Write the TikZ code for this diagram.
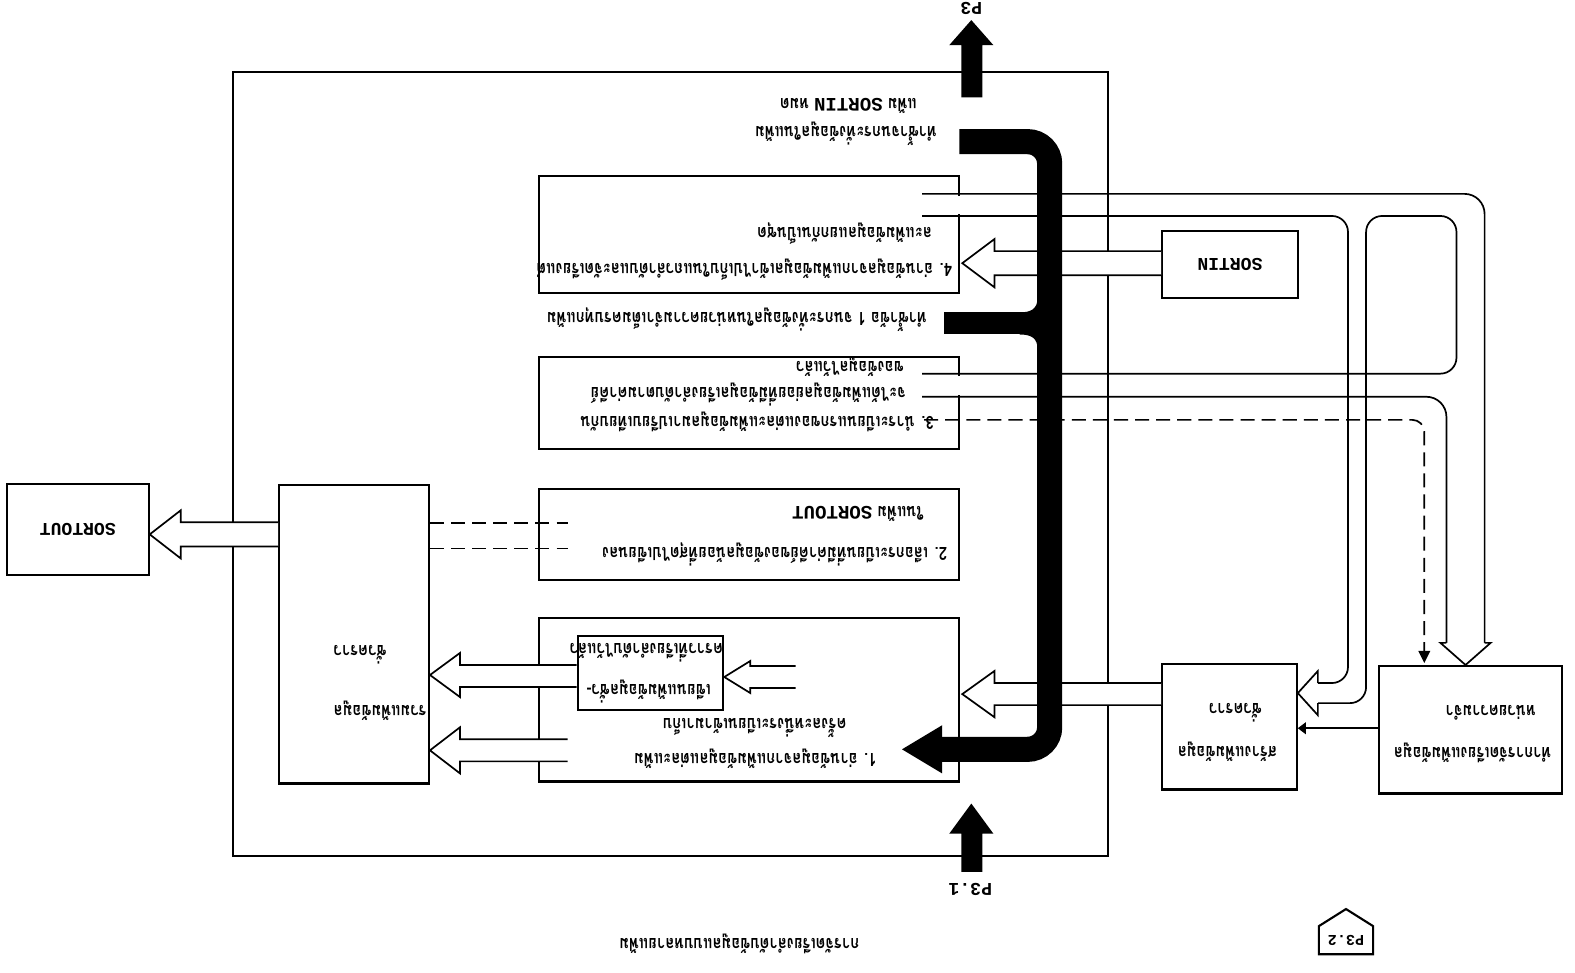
\documentclass[tikz,border=0pt]{standalone}
\usepackage{fontspec}
\newfontfamily\thaifont[Script=Thai, FakeStretch=0.82]{Loma}
\newfontfamily\labfont{Liberation Mono}
\newcommand\latn[1]{{\labfont\bfseries\fontsize{19}{20}\selectfont #1}}
\begin{document}
\begin{tikzpicture}[x=1pt,y=-1pt,
  box/.style={draw, line width=2.1pt, inner sep=0pt},
  th/.style={rotate=180, inner sep=0pt, font=\thaifont\bfseries\fontsize{18}{20}\selectfont},
  thl/.style={th, anchor=west},
  thr/.style={th, anchor=east},
  lab/.style={rotate=180, inner sep=0pt, font=\labfont\bfseries\fontsize{18}{20}\selectfont},
  wire/.style={line width=1.7pt},
  hollow/.style={draw, line width=1.7pt, fill=white, line join=miter},
  dashline/.style={line width=1.7pt, dash pattern=on 14pt off 7pt}]
\useasboundingbox (0,0) rectangle (1568,968);

% ---------- boxes ----------
\node[box, minimum width=871pt, minimum height=780pt] (frame) at (667.5,462) {};
\node[box, minimum width=418pt, minimum height=117pt] (b4) at (746,233.5) {};
\node[box, minimum width=418pt, minimum height=92pt] (b3) at (746,401) {};
\node[box, minimum width=418pt, minimum height=90pt] (b2) at (746,532) {};
\node[box, minimum width=418pt, minimum height=163pt] (b1) at (746,696.5) {};
\node[box, minimum width=145pt, minimum height=74pt] (sub) at (647.5,670) {};
\node[box, minimum width=149pt, minimum height=297pt] (lb) at (352.5,631.5) {};
\node[box, minimum width=141pt, minimum height=90pt] (so) at (77.5,527) {};
\node[box, minimum width=135pt, minimum height=67pt] (si) at (1224.5,263.5) {};
\node[box, minimum width=134pt, minimum height=125pt] (bA) at (1224,723.5) {};
\node[box, minimum width=182pt, minimum height=127pt] (bB) at (1464,726.5) {};
% openings of the pipes in the right edges of boxes 4 and 3
\fill[white] ([xshift=-2pt]b4.east |- 0,195) rectangle ([xshift=2pt]b4.east |- 0,213);
\fill[white] ([xshift=-2pt]b3.east |- 0,374) rectangle ([xshift=2pt]b3.east |- 0,393);

% ---------- pipes from boxes 4 and 3 ----------
\draw[wire, rounded corners=20pt] (918,193) -- (1478,193) -- (1478,641);
\draw[wire, rounded corners=16pt] (918,215) -- (1342,215) -- (1342,680) -- (1312,680);
\draw[wire, rounded corners=16pt] (1312,700) -- (1360,700) -- (1360,215) -- (1450,215) -- (1450,372) -- (918,372);
\draw[wire, rounded corners=20pt] (918,395) -- (1440,395) -- (1440,641);
\draw[hollow] (1440,640) -- (1434,640) -- (1459,662) -- (1484,640) -- (1478,640);
\draw[hollow] (1312,680) -- (1312,668) -- (bA.east |- 0,690) -- (1312,712) -- (1312,700);

% ---------- other hollow arrows ----------
\draw[hollow] (si.west |- 0,250) -- (990,250) -- (990,238) -- (958,262) -- (990,286) -- (990,274) -- (si.west |- 0,274);
\draw[hollow] (bA.west |- 0,680) -- (990,680) -- (990,668) -- (958,691) -- (990,714) -- (990,702) -- (bA.west |- 0,702);
\draw[hollow] (792,663) -- (747,663) -- (747,658) -- (sub.east |- 0,674) -- (747,690) -- (747,685) -- (792,685);
\draw[hollow] (sub.west |- 0,662) -- (458,662) -- (458,650) -- (lb.east |- 0,672) -- (458,694) -- (458,684) -- (sub.west |- 0,684);
\draw[hollow] (565,736) -- (458,736) -- (458,724) -- (lb.east |- 0,747) -- (458,770) -- (458,758) -- (565,758);
\draw[hollow] (lb.west |- 0,520) -- (180,520) -- (180,508) -- (so.east |- 0,532) -- (180,556) -- (180,544) -- (lb.west |- 0,544);
\draw[dashline] (lb.east |- 0,521) -- (565,521);
\draw[dashline] (lb.east |- 0,546) -- (565,546);
\draw[dashline, rounded corners=12pt] (920,418) -- (1418,418) -- (1418,648);
\fill (1412,648) -- (1418,660) -- (1424,648) -- cycle;
\draw[wire] (bB.west |- 0,725) -- (1300,725);
\fill (1300,719) -- (bA.east |- 0,725) -- (1300,731) -- cycle;

% ---------- black control path ----------
\draw[line width=25pt, rounded corners=22pt] (955,141) -- (1045,141) -- (1045,746) -- (936,746);
\fill (938,722) -- (898,746) -- (938,770) -- cycle;
\fill (940,311) rectangle (1040,333);
\fill (1033,296) .. controls (1033,308) and (1026,311) .. (1015,311) -- (1015,333) .. controls (1026,333) and (1033,336) .. (1033,348) -- cycle;
\fill (957,97) -- (957,45) -- (945,45) -- (967,20) -- (989,45) -- (978,45) -- (978,97) -- cycle;
\fill (957,868) -- (957,830) -- (945,830) -- (967,800) -- (989,830) -- (978,830) -- (978,868) -- cycle;
\node[lab] (p3) at (967,8) {P3};
\node[lab] (p31) at (966,885) {P3.1};

% off-page connector
\draw[line width=2.1pt] (1313,950) -- (1367,950) -- (1367,922) -- (1340,905) -- (1313,922) -- cycle;
\node[lab, font=\labfont\bfseries\fontsize{15}{17}\selectfont] (p32) at (1340,936) {P3.2};

% ---------- texts ----------
\node[lab] (tsi) at (si) {SORTIN};
\node[lab] (tso) at (so) {SORTOUT};

\node[thl] (nt1) at (933,133) {ทำซ้ำจนกระทั่งข้อมูลในแฟ้ม};
\node[thl] (nt2) at (913,105) {แฟ้ม \latn{SORTIN} หมด};

\node[thl] (t41) at (948,268) {4. อ่านข้อมูลจากแฟ้มข้อมูลเข้าไปเก็บในแถวลำดับและจัดเรียงแต่};
\node[thl] (t42) at (928,232) {ละแฟ้มข้อมูลแยกกันเป็นชุด};

\node[thl] (nm) at (923,318) {ทำซ้ำข้อ 1 จนกระทั่งข้อมูลในหน่วยความจำเต็มครบทุกแฟ้ม};

\node[thl] (t31) at (930,420) {3. นำระเบียนแรกของแต่ละแฟ้มข้อมูลมาเปรียบเทียบกัน};
\node[thl] (t32) at (902,393) {จะได้แฟ้มข้อมูลย่อยที่มีข้อมูลเรียงลำดับตามค่าคีย์};
\node[thl] (t33) at (900,365) {ของข้อมูลไว้แล้ว};

\node[thl] (t21) at (943,552) {2. เลือกระเบียนที่มีค่าคีย์ของข้อมูลน้อยที่สุดไปเขียนลง};
\node[thl] (t22) at (920,512) {ในแฟ้ม \latn{SORTOUT}};

\node[thl] (t11) at (873,755) {1. อ่านข้อมูลจากแฟ้มข้อมูลแต่ละแฟ้ม};
\node[thl] (t12) at (843,725) {ครั้งละหนึ่งระเบียนเข้ามาเก็บ};
\node[thl] (ts1) at (708,688) {เขียนแฟ้มข้อมูลชั่ว-};
\node[thl] (ts2) at (720,650) {คราวที่เรียงลำดับไว้แล้ว};

\node[thr] (tl1) at (332,708) {รวมแฟ้มข้อมูล};
\node[thr] (tl2) at (332,652) {ชั่วคราว};

\node[th] (ta1) at (1222,748) {สร้างแฟ้มข้อมูล};
\node[th] (ta2) at (1230,710) {ชั่วคราว};

\node[th] (tb1) at (1466,750) {ทำการจัดเรียงแฟ้มข้อมูล};
\node[th] (tb2) at (1484,710) {หน่วยความจำ};

\node[th] (cap) at (736,940) {การจัดเรียงลำดับข้อมูลแบบหลายแฟ้ม};
\end{tikzpicture}
\end{document}
